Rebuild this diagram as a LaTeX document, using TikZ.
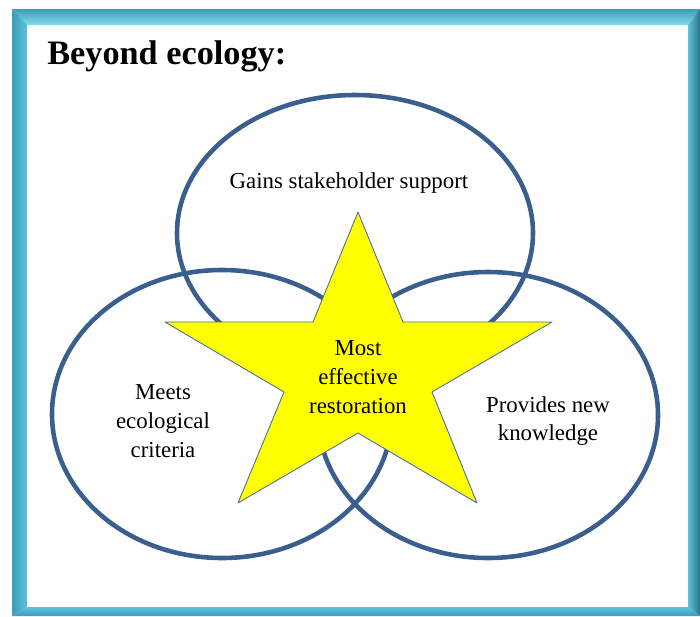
\documentclass[tikz,border=0pt]{standalone}
\usepackage{fontspec, tkz-euclide}
\setmainfont{Liberation Serif}
\definecolor{ringblue}{HTML}{3A5F8F}
\definecolor{starline}{HTML}{4A6CA8}
\definecolor{starfill}{HTML}{FFFF00}
\definecolor{frameD}{HTML}{3B9DB8}
\definecolor{frameM}{HTML}{5CC2DA}
\definecolor{frameL}{HTML}{82DEF1}
\definecolor{frameK}{HTML}{2E7488}
\tikzset{>=stealth}
\tikzset{ring/.style={draw=ringblue, line width=2.6pt},
  txt/.style={align=center, inner sep=0pt, font=\fontsize{13}{16.4}\selectfont}}

\begin{document}
\begin{tikzpicture}[x=0.02cm, y=-0.02cm]
\useasboundingbox (0,0) rectangle (700,616);
% bevelled frame
\shade[top color=frameD, bottom color=frameL] (12,9) -- (700,9) -- (688,25) -- (27,25) -- cycle;
\shade[left color=frameD, right color=frameM] (12,9) -- (27,25) -- (27,607) -- (12,616) -- cycle;
\shade[left color=frameM, right color=frameK] (700,9) -- (700,616) -- (688,607) -- (688,25) -- cycle;
\shade[top color=frameM, bottom color=frameD] (12,616) -- (27,607) -- (688,607) -- (700,616) -- cycle;
\node[anchor=base west, inner sep=0pt, font=\bfseries\fontsize{19.5}{23}\selectfont] (title) at (47,64) {Beyond ecology:};
% the three rings
\tkzDefPoints{355/233/T, 222/414/L, 488/415/R}
\draw[ring] (T) ellipse [x radius=178, y radius=138];
\draw[ring] (L) ellipse [x radius=170, y radius=144];
\draw[ring] (R) ellipse [x radius=170, y radius=143];
% star
\tkzDefPoints{358/212/A, 403/322/B, 552/322/C, 432/392/D, 477/503/E,
  358/433/F, 238/503/G, 284/392/H, 165/322/I, 313/322/J}
\tkzDrawPolygon[draw=starline, line width=0.5pt, fill=starfill](A,B,C,D,E,F,G,H,I,J)
\node[txt] (support) at (349,183) {Gains stakeholder support};
\node[txt] (criteria) at (163,421) {Meets\\ecological\\criteria};
\node[txt] (knowledge) at (548,421) {Provides new\\knowledge};
\node[txt] (best) at (358,377) {Most\\effective\\restoration};
\end{tikzpicture}
\end{document}
